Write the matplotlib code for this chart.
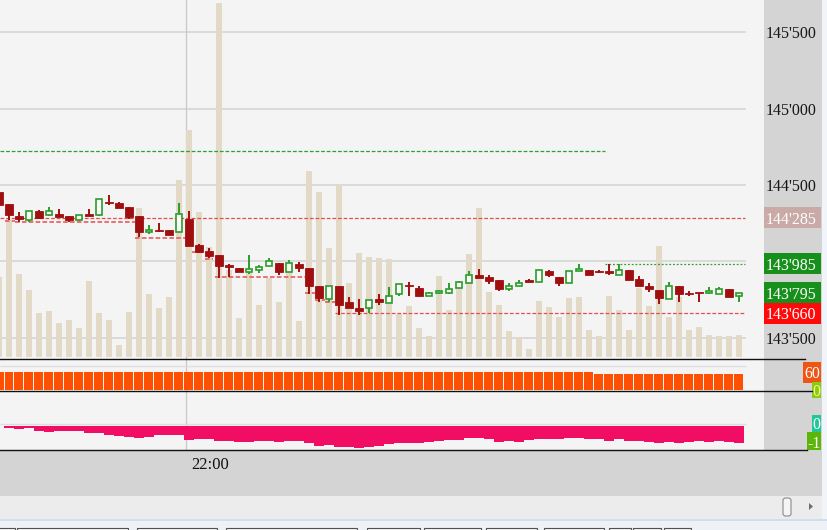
import numpy as np
import matplotlib.pyplot as plt
from matplotlib.patches import Rectangle, FancyBboxPatch, Polygon
from matplotlib.transforms import blended_transform_factory as blend

plt.rcParams['font.family'] = ['Liberation Serif', 'DejaVu Serif']

# one bar every 10 px, bar -1 is cut at the left edge
opens = [144455, 144375, 144300, 144270, 144330, 144305, 144310, 144295, 144270, 144305,
         144305, 144390, 144385, 144355, 144295, 144195, 144205, 144205, 144195, 144280,
         144105, 144065, 144040, 143975, 143955, 143930, 143945, 143970, 143990, 143930,
         143985, 143955, 143840, 143750, 143835, 143730, 143695, 143695, 143755, 143725,
         143785, 143845, 143825, 143775, 143790, 143795, 143825, 143860, 143910, 143895,
         143880, 143815, 143835, 143875, 143865, 143935, 143900, 143855, 143935, 143945,
         143935, 143935, 143910, 143945, 143885, 143835, 143810, 143750, 143840, 143795,
         143795, 143790, 143785, 143820, 143770]
highs = [144455, 144375, 144320, 144330, 144335, 144355, 144345, 144295, 144305, 144340,
         144410, 144435, 144390, 144355, 144295, 144235, 144250, 144205, 144385, 144330,
         144115, 144085, 144040, 143985, 143955, 144040, 143975, 144020, 143990, 144005,
         143995, 143955, 143840, 143835, 143835, 143765, 143750, 143745, 143785, 143830,
         143850, 143865, 143840, 143800, 143810, 143855, 143870, 143935, 143950, 143910,
         143880, 143855, 143880, 143885, 143940, 143945, 143900, 143935, 143980, 143945,
         143940, 143980, 143980, 143945, 143905, 143855, 143810, 143865, 143840, 143805,
         143795, 143830, 143830, 143820, 143795]
lows = [144370, 144270, 144260, 144260, 144280, 144295, 144290, 144255, 144265, 144300,
        144300, 144370, 144350, 144275, 144160, 144180, 144195, 144175, 144190, 144100,
        144055, 144020, 143890, 143895, 143930, 143915, 143925, 143970, 143910, 143930,
        143930, 143785, 143735, 143730, 143650, 143695, 143650, 143660, 143715, 143725,
        143775, 143770, 143775, 143770, 143785, 143785, 143825, 143860, 143890, 143850,
        143805, 143805, 143835, 143865, 143865, 143900, 143840, 143855, 143935, 143910,
        143925, 143910, 143910, 143880, 143835, 143800, 143720, 143750, 143730, 143770,
        143735, 143785, 143785, 143765, 143730]
closes = [144370, 144305, 144275, 144330, 144285, 144330, 144290, 144270, 144305, 144300,
          144410, 144380, 144350, 144290, 144195, 144205, 144200, 144175, 144310, 144100,
          144060, 144035, 143970, 143965, 143930, 143950, 143965, 144000, 143930, 143990,
          143955, 143840, 143760, 143835, 143715, 143695, 143675, 143745, 143735, 143775,
          143850, 143835, 143775, 143790, 143805, 143820, 143865, 143910, 143890, 143870,
          143815, 143835, 143860, 143865, 143940, 143910, 143855, 143935, 143950, 143910,
          143930, 143920, 143940, 143880, 143835, 143815, 143760, 143840, 143785, 143785,
          143790, 143805, 143815, 143765, 143795]
volume = [80, 138, 83, 67, 44, 46, 34, 37, 29, 76, 44, 37, 12, 45, 149, 63, 49, 60, 177, 227,
          145, 110, 354, 87, 39, 85, 52, 79, 55, 89, 36, 186, 165, 109, 172, 74, 104, 100, 99, 98,
          43, 51, 29, 21, 81, 47, 69, 103, 149, 65, 52, 26, 20, 8, 56, 50, 40, 59, 60, 27,
          21, 61, 47, 27, 69, 51, 111, 40, 60, 27, 30, 22, 21, 21, 22]
osc_orange = [60, 60, 60, 60, 60, 60, 60, 60, 60, 60, 60, 60, 60, 60, 60, 60, 60, 60, 60, 60,
              60, 60, 60, 60, 60, 60, 60, 60, 60, 60, 60, 60, 60, 60, 60, 60, 60, 60, 60, 60,
              60, 60, 60, 60, 60, 60, 60, 60, 60, 60, 60, 60, 60, 60, 60, 60, 60, 60, 60, 60,
              55, 55, 55, 55, 55, 55, 55, 55, 55, 55, 55, 55, 55, 55, 55]
osc_pink = [0.0, -0.14, -0.19, -0.14, -0.28, -0.34, -0.28, -0.28, -0.28, -0.43,
            -0.43, -0.53, -0.59, -0.66, -0.72, -0.66, -0.53, -0.53, -0.53, -0.82,
            -0.78, -0.78, -0.86, -0.86, -0.92, -0.92, -0.86, -0.86, -0.92, -0.86,
            -0.86, -0.98, -1.16, -1.12, -1.22, -1.22, -1.31, -1.22, -1.16, -1.06,
            -1.02, -0.98, -0.98, -0.92, -0.86, -0.82, -0.82, -0.69, -0.69, -0.78,
            -0.92, -0.86, -0.92, -0.82, -0.78, -0.78, -0.78, -0.69, -0.69, -0.78,
            -0.78, -0.86, -0.78, -0.86, -0.86, -0.92, -0.98, -0.92, -0.98, -0.92,
            -0.86, -0.92, -0.86, -0.92, -0.98]

grid_levels = [143500, 144000, 144500, 145000, 145500]
axis_labels = [143500, 144500, 145000, 145500]
# (price, from bar, to bar, colour, dash)
level_lines = [(144285, -0.9, 73.6, '#e05050', (0, (3, 1.5))),
               (143660, 32.6, 73.6, '#e05050', (0, (3, 1.5))),
               (144725, -0.9, 59.6, '#2f9f2f', (0, (3, 1.5))),
               (143985, 59.6, 73.6, '#2f9f2f', (0, (1.5, 1.5)))]
support_steps = [(-0.4, 0.6, 144265), (0.6, 12.6, 144255), (12.6, 17.6, 144155),
                 (18.3, 19.4, 144060), (19.6, 20.4, 144015), (20.6, 29.6, 143895),
                 (29.6, 30.6, 143795), (30.6, 31.6, 143745), (31.6, 32.6, 143730)]
marked_prices = [(144285, '#c9aaa6'), (143985, '#17901b'), (143795, '#17901b'), (143660, '#ff0a0a')]
cursor_bar = 17.7
time_label = '22:00'
time_bar = 18.2

W, H = 828, 530
fig = plt.figure(figsize=(W / 100, H / 100), dpi=100)
fig.patch.set_facecolor('#f1f4f8')


def panel(x0, y0, x1, y1, fc='none'):
    a = fig.add_axes([x0 / W, 1 - y1 / H, (x1 - x0) / W, (y1 - y0) / H])
    a.set_facecolor(fc)
    a.set_xticks([])
    a.set_yticks([])
    for s in a.spines.values():
        s.set_visible(False)
    return a


bars = np.arange(len(opens)) - 1
o, h, l, c = map(np.array, (opens, highs, lows, closes))
xlim = (-0.9, 75.5)
ylim = (143365.6, 145713.1)

# window chrome
panel(764, 0, 822, 450, '#d4d4d4')
tax = panel(0, 450, 822, 496, '#d4d4d4')
panel(0, 496, 822, 519, '#ececec')

# volume behind the candles
vol = panel(0, 0, 764, 358, '#f4f4f4')
ax = panel(0, 0, 764, 358)
ax.set_xlim(xlim)
ax.set_ylim(ylim)
vol.set_xlim(xlim)
vol.set_ylim(-1, 357)
gtr = blend(vol.transAxes, ax.transData)
for g in grid_levels:
    vol.plot([0, 745 / 764], [g, g], transform=gtr, color='#dadada', lw=1.4, zorder=0)
vol.axvline(cursor_bar, color='#c8c8c8', lw=0.9, zorder=0.5)
vol.bar(bars, volume, width=0.62, color='#e2d9c6', zorder=1)

for p, x0, x1, col, ls in level_lines:
    ax.plot([x0, x1], [p, p], color=col, lw=0.9, ls=ls, zorder=1)
for x0, x1, p in support_steps:
    ax.plot([x0, x1], [p, p], color='#e05050', lw=1.1, ls=(0, (3, 1.5)), zorder=1)

up = c >= o
ax.vlines(bars[up], l[up], h[up], color='#2a9d2a', lw=1.4, zorder=2)
ax.vlines(bars[~up], l[~up], h[~up], color='#a00f0f', lw=1.4, zorder=2)
body_lo = np.minimum(o, c)
body_h = np.maximum(np.abs(c - o), 8)
ax.bar(bars[up], body_h[up], bottom=body_lo[up], width=0.68, facecolor='#fbfbfb',
       edgecolor='#2a9d2a', lw=1.2, zorder=3)
ax.bar(bars[~up], body_h[~up], bottom=body_lo[~up], width=0.72, facecolor='#a00f0f',
       edgecolor='#a00f0f', lw=0.6, zorder=3)

# price scale
rax = panel(764, 0, 822, 358)
rax.set_xlim(0, 1)
rax.set_ylim(ylim)
for p in axis_labels:
    rax.text(0.03, p, f"{p:,}".replace(',', "'"), ha='left', va='center_baseline',
             fontsize=11.5, color='#151515')
for p, col in marked_prices:
    rax.add_patch(Rectangle((0, p - 69), 0.985, 138, fc=col, ec='none'))
    rax.text(0.03, p, f"{p:,}".replace(',', "'"), ha='left', va='center_baseline',
             fontsize=11.5, color='white')

# lower indicator panels
oax = panel(0, 358, 764, 391, '#f4f4f4')
oax.set_xlim(xlim)
oax.set_ylim(-3.4, 108.5)
oax.hlines(82, -0.9, 73.7, color='#dedede', lw=1)
oax.axvline(cursor_bar, color='#c8c8c8', lw=0.9, zorder=0.5)
oax.bar(bars, osc_orange, width=0.9, color='#fe5000', zorder=1)

pax = panel(0, 391, 764, 450, '#f4f4f4')
pax.set_xlim(xlim)
pax.set_ylim(-1.41, 2.06)
pax.hlines(0.12, -0.9, 73.7, color='#dedede', lw=1)
pax.axvline(cursor_bar, color='#c8c8c8', lw=0.9, zorder=0.5)
pax.bar(bars, osc_pink, width=0.92, color='#f00d63', zorder=1)

r2 = panel(764, 358, 822, 450)
otr = blend(r2.transAxes, oax.transData)
ptr = blend(r2.transAxes, pax.transData)
for x0, w, yc, hh, tr, fc, tc, txt in [
        (0.672, 0.311, 60, 71, otr, '#ef5512', 'white', '60'),
        (0.828, 0.155, 0, 54, otr, '#8ccc10', '#eefa90', '0'),
        (0.828, 0.155, 0.15, 1.0, ptr, '#1fc79a', 'white', '0'),
        (0.741, 0.242, -0.94, 1.18, ptr, '#5cb60a', 'white', '-1')]:
    r2.add_patch(Rectangle((x0, yc - hh / 2), w, hh, transform=tr, fc=fc, ec='none'))
    r2.text(x0 + w / 2, yc, txt, transform=tr, ha='center', va='center_baseline',
            fontsize=11.5, color=tc)

# time axis
tax.set_xlim(-0.9, 81.3)
tax.text(time_bar, 0.67, time_label, transform=blend(tax.transData, tax.transAxes),
         ha='left', va='center', fontsize=12, color='#111')

# panel separators, scrollbar, bottom strip
ov = fig.add_axes([0, 0, 1, 1])
ov.set_xlim(0, W)
ov.set_ylim(H, 0)
ov.axis('off')
for y, x1 in [(358.5, 805), (391, 812), (450, 807)]:
    ov.plot([0, x1], [y, y], color='#111111', lw=1)
ov.add_patch(FancyBboxPatch((783, 498), 8, 18, boxstyle='round,pad=0,rounding_size=2.5',
                            fc='#f5f5f5', ec='#8a8a8a', lw=0.8))
ov.add_patch(Polygon([(809, 503), (809, 510), (813, 506.5)], closed=True, fc='#6e6e6e', ec='none'))
ov.add_patch(Rectangle((0, 519), 828, 2, fc='#cfdff0', ec='none'))
ov.add_patch(Rectangle((0, 521), 828, 9, fc='#eef1f5', ec='none'))
for x0, x1 in [(-5, 15), (17, 128), (137, 217), (226, 357), (367, 420), (424, 481),
               (486, 537), (544, 604), (609, 631), (633, 661), (664, 691)]:
    ov.add_patch(Rectangle((x0, 527.5), x1 - x0, 6, fc='#f8f8f8', ec='#505050', lw=0.8))

fig.savefig('out.png', dpi=100, facecolor=fig.get_facecolor())
